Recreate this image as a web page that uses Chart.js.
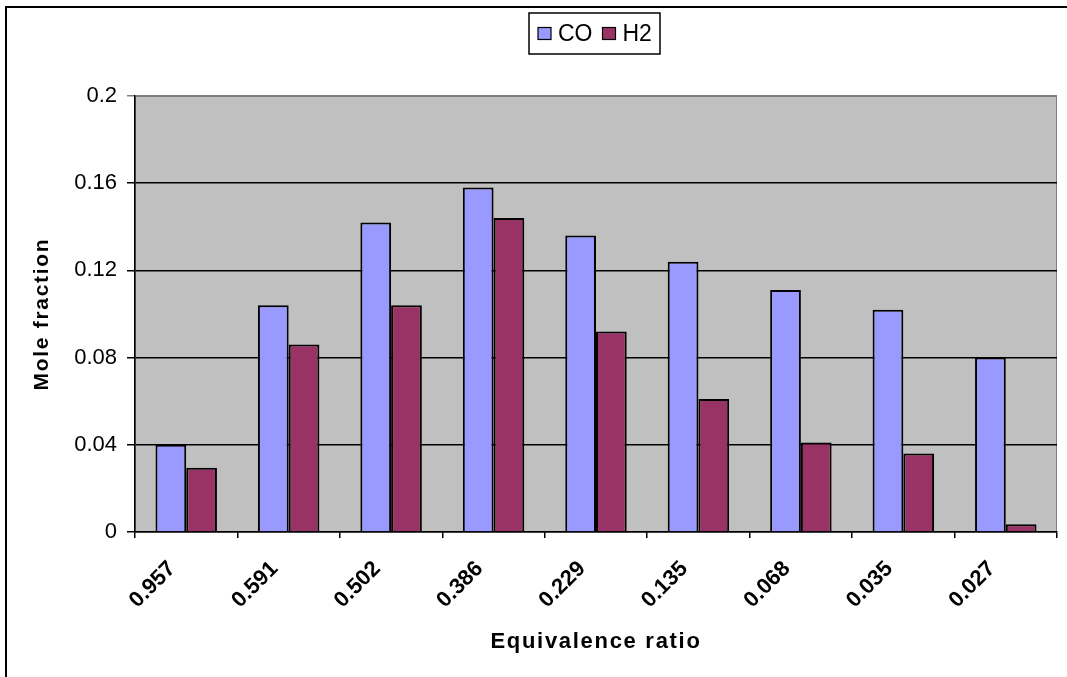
<!DOCTYPE html>
<html lang="en">
<head>
  <meta charset="UTF-8">
  <title>Mole fraction vs equivalence ratio</title>
  <script src="https://cdn.jsdelivr.net/npm/chart.js"></script>
  <style>
    html, body { margin: 0; padding: 0; background: #fff; }
    canvas { display: block; }
  </style>
</head>
<body>
  <canvas id="chart" width="1067" height="677"></canvas>

  <script>
    // values
    const ratios = ['0.957', '0.591', '0.502', '0.386', '0.229', '0.135', '0.068', '0.035', '0.027'];
    const coValues = [0.040, 0.104, 0.142, 0.158, 0.136, 0.124, 0.111, 0.102, 0.080];
    const h2Values = [0.0295, 0.086, 0.104, 0.144, 0.092, 0.061, 0.041, 0.036, 0.0035];
    const yTickLabels = ['0', '0.04', '0.08', '0.12', '0.16', '0.2'];

    Chart.defaults.font.family = '"Liberation Sans", Arial, sans-serif';
    Chart.defaults.color = '#000';

    // gray plot area + the frame lines of the original
    const frame = {
      id: 'frame',
      beforeDraw(chart) {
        const { ctx, chartArea: a } = chart;
        ctx.save();
        ctx.fillStyle = '#000';
        ctx.fillRect(5, 6, chart.width - 5, 2);
        ctx.fillRect(5, 6, 2, chart.height - 6);
        ctx.fillStyle = '#C0C0C0';
        ctx.fillRect(a.left, a.top, a.right - a.left, a.bottom - a.top);
        ctx.strokeStyle = '#808080';
        ctx.lineWidth = 1;
        ctx.strokeRect(a.left + 0.5, a.top + 0.5, a.right - a.left - 1, a.bottom - a.top - 1);
        ctx.restore();

        // axis titles are a bit spread out in the original
        Object.values(chart.scales).forEach(s => {
          if (s._spaced) return;
          const orig = s.drawTitle;
          s.drawTitle = function () {
            const prev = this.ctx.letterSpacing;
            this.ctx.letterSpacing = '1.7px';
            orig.apply(this, arguments);
            this.ctx.letterSpacing = prev;
          };
          s._spaced = true;
        });
      }
    };

    // boxed legend at the top
    const boxLegend = {
      id: 'boxLegend',
      afterDraw(chart) {
        const ctx = chart.ctx;
        const box = { x: 529, y: 13, w: 131, h: 41 };
        ctx.save();
        ctx.strokeStyle = '#000';
        ctx.lineWidth = 1.5;
        ctx.strokeRect(box.x, box.y, box.w, box.h);
        ctx.font = '23px "Liberation Sans", Arial, sans-serif';
        ctx.textBaseline = 'middle';
        let x = box.x + 9;
        const cy = box.y + box.h / 2;
        chart.data.datasets.forEach(ds => {
          ctx.fillStyle = ds.backgroundColor;
          ctx.fillRect(x, cy - 6, 13, 12);
          ctx.lineWidth = 1.2;
          ctx.strokeRect(x, cy - 6, 13, 12);
          x += 20;
          ctx.fillStyle = '#000';
          ctx.fillText(ds.label, x, cy + 1);
          x += ctx.measureText(ds.label).width + 10;
        });
        ctx.restore();
      }
    };

    new Chart(document.getElementById('chart'), {
      type: 'bar',
      data: {
        labels: ratios,
        datasets: [
          {
            label: 'CO',
            data: coValues,
            backgroundColor: '#9999FF',
            borderColor: '#000',
            borderWidth: 2,
            barPercentage: 1.0,
            categoryPercentage: 0.6
          },
          {
            label: 'H2',
            data: h2Values,
            backgroundColor: '#993366',
            borderColor: '#000',
            borderWidth: 2,
            barPercentage: 1.0,
            categoryPercentage: 0.6
          }
        ]
      },
      options: {
        responsive: false,
        animation: false,
        devicePixelRatio: 1,
        layout: { padding: { top: 96, right: 10, left: 0, bottom: 0 } },
        plugins: {
          legend: { display: false },
          tooltip: { enabled: false }
        },
        scales: {
          x: {
            grid: { offset: true, drawOnChartArea: false, tickLength: 6, color: '#000', lineWidth: 1.5 },
            border: { color: '#000', width: 1.5 },
            ticks: {
              autoSkip: false,
              minRotation: 45,
              maxRotation: 45,
              labelOffset: -14,
              padding: 18,
              font: { size: 22, weight: 'bold' }
            },
            title: {
              display: true,
              text: 'Equivalence ratio',
              font: { size: 22, weight: 'bold' },
              padding: { top: 0, bottom: 22 }
            },
            afterFit(scale) { scale.height = 145; }
          },
          y: {
            min: 0,
            max: 0.2,
            grid: {
              color: ctx => ctx.index === yTickLabels.length - 1 ? '#808080' : '#000',
              lineWidth: 1.5,
              tickLength: 8
            },
            border: { color: '#000', width: 1.5 },
            ticks: {
              stepSize: 0.04,
              padding: 10,
              font: { size: 22 },
              callback: (v, i) => yTickLabels[i]
            },
            title: {
              display: true,
              text: 'Mole fraction',
              font: { size: 21, weight: 'bold' },
              padding: { top: 30, bottom: 0 }
            },
            afterFit(scale) { scale.width = 135; }
          }
        }
      },
      plugins: [frame, boxLegend]
    });
  </script>
</body>
</html>
